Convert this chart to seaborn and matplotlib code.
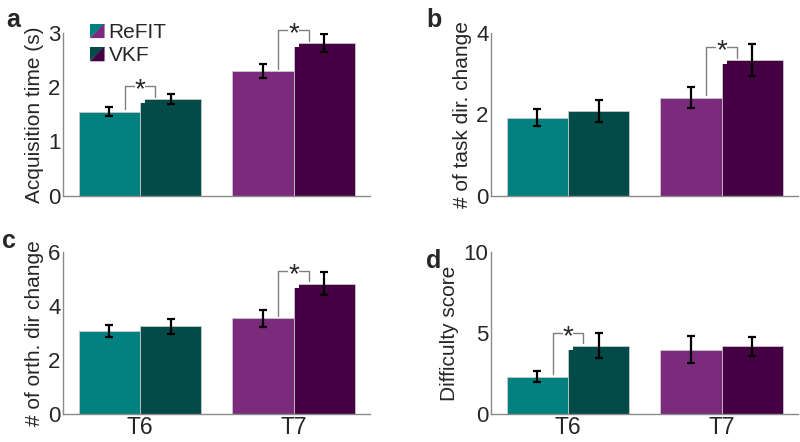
import matplotlib
matplotlib.use("Agg")
import matplotlib.pyplot as plt
import numpy as np
import pandas as pd
import seaborn as sns
from matplotlib.legend_handler import HandlerBase
from matplotlib.patches import Polygon, Patch

# Data
subjects = ["T6", "T7"]
decoders = ["ReFIT", "VKF"]

acq_refit = [1.55, 2.29]
acq_vkf = [1.78, 2.81]
acq_refit_err = [0.08, 0.13]
acq_vkf_err = [0.09, 0.17]
acq_sig = [True, True]

task_refit = [1.92, 2.41]
task_vkf = [2.09, 3.33]
task_refit_err = [0.22, 0.26]
task_vkf_err = [0.27, 0.39]
task_sig = [False, True]

orth_refit = [3.07, 3.55]
orth_vkf = [3.25, 4.84]
orth_refit_err = [0.23, 0.31]
orth_vkf_err = [0.27, 0.44]
orth_sig = [False, True]

diff_refit = [2.29, 3.97]
diff_vkf = [4.21, 4.17]
diff_refit_err = [0.33, 0.82]
diff_vkf_err = [0.77, 0.59]
diff_sig = [True, False]

# colours per subject: (ReFIT, VKF)
colors = {"T6": ("#00807e", "#024b48"), "T7": ("#7b2a7c", "#450043")}

sns.set_style("white")
plt.rcParams["font.family"] = ["Liberation Sans", "DejaVu Sans"]


class SplitHandler(HandlerBase):
    def __init__(self, c1, c2):
        super().__init__()
        self.c1, self.c2 = c1, c2

    def create_artists(self, legend, orig_handle, xdescent, ydescent, width, height, fontsize, trans):
        x0, y0 = -xdescent, -ydescent
        t1 = Polygon([[x0, y0], [x0, y0 + height], [x0 + width, y0 + height]], closed=True,
                     facecolor=self.c1, edgecolor="none", transform=trans)
        t2 = Polygon([[x0, y0], [x0 + width, y0 + height], [x0 + width, y0]], closed=True,
                     facecolor=self.c2, edgecolor="none", transform=trans)
        return [t1, t2]


def draw_panel(ax, refit, vkf, refit_err, vkf_err, sig, ymax, yticks, ylabel, xlabels):
    df = pd.DataFrame({
        "subject": subjects * 2,
        "decoder": [decoders[0]] * 2 + [decoders[1]] * 2,
        "value": refit + vkf,
        "err": refit_err + vkf_err,
    })
    sns.barplot(data=df, x="subject", y="value", hue="decoder", order=subjects,
                hue_order=decoders, errorbar=None, legend=False, ax=ax,
                edgecolor="#c8c8c8", linewidth=0.6, saturation=1)

    tops = {}
    for bar in ax.patches:
        xc = bar.get_x() + bar.get_width() / 2
        s = int(round(xc))
        d = 0 if xc < s else 1
        bar.set_facecolor(colors[subjects[s]][d])
        tops[(s, d)] = (xc, bar.get_height())

    for (s, d), (xc, h) in tops.items():
        e = (refit_err if d == 0 else vkf_err)[s]
        ax.errorbar(xc, h, yerr=e, fmt="none", ecolor="black", elinewidth=1.6,
                    capsize=3, capthick=1.6, zorder=5)

    for s, flag in enumerate(sig):
        if not flag:
            continue
        h1 = tops[(s, 0)][1]
        h2 = tops[(s, 1)][1]
        top = max(h1, h2) + 0.08 * ymax
        off = 0.015 * ymax
        xl, xr = s - 0.1, s + 0.1
        ax.plot([xl, xl, xr, xr], [h1 + off, top, top, h2 + off], color="#7f7f7f",
                lw=1.0, zorder=4, clip_on=False)
        ax.annotate("*", (s, top), xytext=(0, -3), textcoords="offset points",
                    ha="center", va="center", fontsize=20, zorder=6, annotation_clip=False,
                    bbox=dict(facecolor="white", edgecolor="none", pad=0.0))

    ax.set_xlim(-0.5, 1.5)
    ax.set_ylim(0, ymax)
    ax.set_yticks(yticks)
    ax.set_ylabel(ylabel, fontsize=15, labelpad=3)
    ax.set_xlabel("")
    if xlabels:
        ax.set_xticks([0, 1])
        ax.set_xticklabels(subjects)
    else:
        ax.set_xticks([])
    ax.tick_params(axis="both", length=0, labelsize=16, pad=2)
    if xlabels:
        ax.tick_params(axis="x", labelsize=16.5, pad=2)
    for side in ["top", "right"]:
        ax.spines[side].set_visible(False)
    for side in ["left", "bottom"]:
        ax.spines[side].set_color("#8a8a8a")
        ax.spines[side].set_linewidth(1.0)


fig = plt.figure(figsize=(8, 4.42), dpi=100)
w, h = 0.384, 0.369
ax_a = fig.add_axes([0.079, 0.557, w, h])
ax_b = fig.add_axes([0.614, 0.557, w, h])
ax_c = fig.add_axes([0.079, 0.064, w, h - 0.004])
ax_d = fig.add_axes([0.614, 0.064, w, h - 0.004])

draw_panel(ax_a, acq_refit, acq_vkf, acq_refit_err, acq_vkf_err, acq_sig, 3, [0, 1, 2, 3],
           "Acquisition time (s)", False)
draw_panel(ax_b, task_refit, task_vkf, task_refit_err, task_vkf_err, task_sig, 4, [0, 2, 4],
           "# of task dir. change", False)
draw_panel(ax_c, orth_refit, orth_vkf, orth_refit_err, orth_vkf_err, orth_sig, 6, [0, 2, 4, 6],
           "# of orth. dir change", True)
draw_panel(ax_d, diff_refit, diff_vkf, diff_refit_err, diff_vkf_err, diff_sig, 10, [0, 5, 10],
           "Difficulty score", True)

# legend with split colour squares
h_refit = Patch(label=decoders[0])
h_vkf = Patch(label=decoders[1])
ax_a.legend(handles=[h_refit, h_vkf], labels=decoders,
            handler_map={h_refit: SplitHandler(colors["T6"][0], colors["T7"][0]),
                         h_vkf: SplitHandler(colors["T6"][1], colors["T7"][1])},
            loc="upper left", bbox_to_anchor=(0.06, 1.11), frameon=False, fontsize=15,
            handlelength=0.7, handleheight=0.7, handletextpad=0.2, labelspacing=0.2,
            borderaxespad=0)

for label, x, y in [("a", 0.008, 0.955), ("b", 0.533, 0.955), ("c", 0.003, 0.455), ("d", 0.533, 0.41)]:
    fig.text(x, y, label, fontsize=18, fontweight="bold", ha="left", va="center")

fig.savefig("out.png", dpi=100)
